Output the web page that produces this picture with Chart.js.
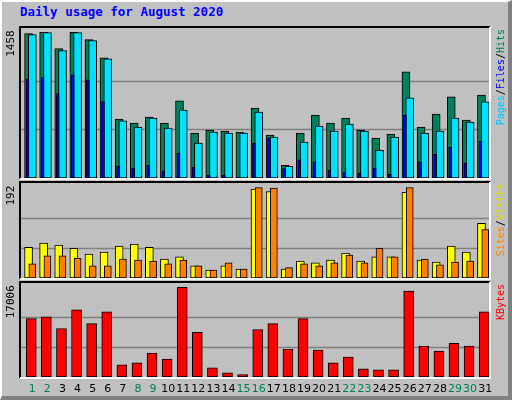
<!DOCTYPE html>
<html>
<head>
<meta charset="utf-8">
<script src="https://cdn.jsdelivr.net/npm/chart.js@4"></script>
<style>
  html, body { margin: 0; padding: 0; }
  body { width: 512px; height: 400px; overflow: hidden; }
  #frame {
    position: relative; width: 506px; height: 394px; background: #c0c0c0;
    border-top: 2px solid #ffffff; border-left: 2px solid #ffffff;
    border-right: 4px solid #808080; border-bottom: 4px solid #808080;
    box-sizing: content-box;
  }
  #title {
    position: absolute; left: 18px; top: 2px; font: bold 12.5px "DejaVu Sans Mono", monospace;
    color: #0000ff; white-space: nowrap;
  }
  canvas { position: absolute; left: -2px; }
</style>
</head>
<body>
<div id="frame">
  <div id="title">Daily usage for August 2020</div>
  <canvas id="c1" style="top:16px"></canvas>
  <canvas id="c2" style="top:174px"></canvas>
  <canvas id="c3" style="top:274px"></canvas>
</div>
<script>
var days = ['1','2','3','4','5','6','7','8','9','10','11','12','13','14','15','16','17','18','19','20','21','22','23','24','25','26','27','28','29','30','31'];
var weekend = [1,2,8,9,15,16,22,23,29,30];
var hits  = [1445,1458,1294,1458,1384,1203,590,550,610,550,771,449,479,469,459,700,429,127,449,630,550,600,479,399,439,1063,509,640,811,580,831];
var pages = [1434,1455,1274,1455,1374,1193,573,509,600,499,680,349,459,449,449,660,409,117,359,520,469,540,469,278,409,801,449,469,600,560,761];
var files = [992,1005,845,1032,982,764,121,100,127,70,248,107,30,30,10,349,402,94,181,161,77,60,47,100,37,630,161,238,308,147,369];
var visits = [65,74,70,63,51,55,68,72,65,40,45,26,17,26,19,189,184,19,36,32,38,53,36,45,45,182,38,34,68,55,116];
var sites  = [30,47,47,42,26,26,40,38,36,30,38,26,17,32,19,192,191,22,30,26,32,49,32,63,45,192,40,28,34,36,103];
var kbytes = [11048,11421,9186,12724,10117,12352,2297,2669,4531,3414,17006,8441,1738,807,435,9000,10117,5276,11048,5090,2669,3786,1552,1366,1366,16262,5835,4903,6393,5835,12352];
var maxLabels = ['1458', '192', '17006'];

function pts(arr) { return arr.map(function (v, i) { return { x: i + 1, y: v }; }); }
function xAxis(shift) {
  return { type: 'linear', display: false, offset: false, min: 0.5 - shift, max: 31.5 - shift };
}

function panelPlugin(maxVal, maxText, legend, withDays) {
  return {
    id: 'panel',
    beforeDatasetsDraw: function (chart) {
      var a = chart.chartArea, y = chart.scales.y, ctx = chart.ctx;
      ctx.save();
      ctx.strokeStyle = '#808080';
      ctx.lineWidth = 1.5;
      [maxVal / 3, maxVal * 2 / 3].forEach(function (v) {
        var py = Math.round(y.getPixelForValue(v)) + 0.5;
        ctx.beginPath(); ctx.moveTo(a.left, py); ctx.lineTo(a.right, py); ctx.stroke();
      });
      ctx.restore();
    },
    afterDraw: function (chart) {
      var a = chart.chartArea, y = chart.scales.y, ctx = chart.ctx;
      ctx.save();
      ctx.lineWidth = 2;
      ctx.strokeStyle = '#000000';
      ctx.beginPath();
      ctx.moveTo(a.left - 1, a.bottom + 1); ctx.lineTo(a.left - 1, a.top - 1); ctx.lineTo(a.right + 1, a.top - 1);
      ctx.stroke();
      ctx.strokeStyle = '#ffffff';
      ctx.beginPath();
      ctx.moveTo(a.right + 1, a.top - 1); ctx.lineTo(a.right + 1, a.bottom + 1); ctx.lineTo(a.left - 1, a.bottom + 1);
      ctx.stroke();
      ctx.font = '11px "DejaVu Sans Mono", monospace';
      ctx.fillStyle = '#000000';
      ctx.translate(a.left - 4, y.getPixelForValue(maxVal) - 2);
      ctx.rotate(-Math.PI / 2);
      ctx.textAlign = 'right';
      ctx.textBaseline = 'bottom';
      ctx.fillText(maxText, 0, 0);
      ctx.restore();
      ctx.save();
      ctx.font = '10px "DejaVu Sans Mono", monospace';
      ctx.translate(a.right + 12, a.top + 1);
      ctx.rotate(-Math.PI / 2);
      ctx.textBaseline = 'middle';
      var total = legend.reduce(function (s, p) { return s + ctx.measureText(p[0]).width; }, 0);
      var x = -total;
      legend.forEach(function (p) {
        ctx.fillStyle = p[1];
        ctx.fillText(p[0], x, 0);
        x += ctx.measureText(p[0]).width;
      });
      ctx.restore();
      if (withDays) {
        var xs = chart.scales.x;
        ctx.save();
        ctx.font = '11px "DejaVu Sans", sans-serif';
        ctx.textAlign = 'center';
        ctx.textBaseline = 'middle';
        days.forEach(function (d, i) {
          ctx.fillStyle = weekend.indexOf(i + 1) >= 0 ? '#00805c' : '#000000';
          ctx.fillText(d, xs.getPixelForValue(i + 1) + 1, a.bottom + 12);
        });
        ctx.restore();
      }
    }
  };
}

function makeChart(id, h, pad, datasets, scales, maxVal, topVal, maxText, legend, withDays) {
  var cv = document.getElementById(id);
  cv.width = 512; cv.height = h;
  cv.style.width = '512px'; cv.style.height = h + 'px';
  scales.y = { display: false, min: 0, max: topVal };
  return new Chart(cv, {
    type: 'bar',
    data: { datasets: datasets },
    options: {
      responsive: false, animation: false,
      layout: { padding: pad },
      plugins: { legend: { display: false }, tooltip: { enabled: false } },
      scales: scales
    },
    plugins: [panelPlugin(maxVal, maxText, legend, withDays)]
  });
}

function bar(data, color, w, axis, order) {
  return { data: pts(data), backgroundColor: color, borderColor: '#000000', borderWidth: 1,
           borderSkipped: false, barThickness: w, xAxisID: axis, order: order, grouped: false };
}

makeChart('c1', 162, { left: 21, right: 23, top: 10, bottom: 2 }, [
  bar(hits, '#00805c', 8, 'x', 3),
  bar(pages, '#00e0ff', 8, 'xp', 2),
  bar(files, '#0000ff', 3, 'xf', 1)
], { x: xAxis(0), xp: xAxis(0.25), xf: xAxis(-0.07) }, 1458, 1501, maxLabels[0],
  [['Pages', '#00c0ff'], ['/', '#000000'], ['Files', '#0000ff'], ['/', '#000000'], ['Hits', '#00805c']], false);

makeChart('c2', 104, { left: 21, right: 23, top: 7, bottom: 2 }, [
  bar(visits, '#ffff00', 8, 'x', 2),
  bar(sites, '#ff8000', 7, 'xs', 1)
], { x: xAxis(0), xs: xAxis(0.25) }, 192, 202, maxLabels[1],
  [['Sites', '#ff8000'], ['/', '#000000'], ['Visits', '#e0e000']], false);

makeChart('c3', 126, { left: 21, right: 23, top: 7, bottom: 25 }, [
  bar(kbytes, '#ff0000', 10, 'x', 1)
], { x: xAxis(0.18) }, 17006, 17806, maxLabels[2],
  [['KBytes', '#ff0000']], true);
</script>
</body>
</html>
